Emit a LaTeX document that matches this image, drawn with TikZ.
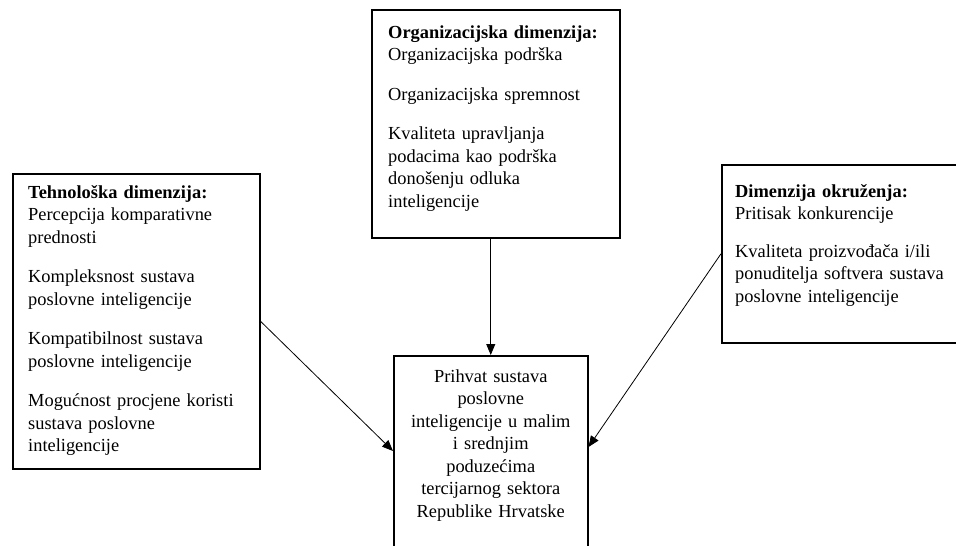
\documentclass[tikz,border=0pt]{standalone}
\usepackage{fontspec}
\setmainfont{Liberation Serif}
\usetikzlibrary{arrows.meta}
\tikzset{
  dim box/.style={draw, line width=1.5pt, anchor=north west, inner sep=0pt},
  dim text/.style={anchor=base west, align=left, text width=#1, inner sep=0pt},
  result text/.style={anchor=base, align=center, text width=#1, inner sep=0pt},
  influence/.style={-{Triangle[length=11pt, width=9pt]}, line width=0.8pt},
}

\begin{document}
\begin{tikzpicture}[x=1pt, y=-1pt, every node/.style={font=\fontsize{18.4}{22.5}\selectfont}]
  \useasboundingbox (0,0) rectangle (956,546);
  \clip (0,0) rectangle (956,546);
  \node[dim box, minimum width=247pt, minimum height=295pt] (teh) at (12,173) {};
  \node[dim box, minimum width=248pt, minimum height=228pt] (org) at (371,9) {};
  \node[dim box, minimum width=245pt, minimum height=178pt] (okr) at (721,164) {};
  \node[dim box, minimum width=194pt, minimum height=215pt] (prih) at (393,355) {};
  \node[dim text=225pt] (tehtxt) at (28,198) {\textbf{Tehnološka dimenzija:}\\
    Percepcija komparativne\\ prednosti\\[17pt]
    Kompleksnost sustava\\ poslovne inteligencije\\[17pt]
    Kompatibilnost sustava\\ poslovne inteligencije\\[17pt]
    Mogućnost procjene koristi\\ sustava poslovne\\ inteligencije};
  \node[dim text=225pt] (orgtxt) at (388,38) {\textbf{Organizacijska dimenzija:}\\
    Organizacijska podrška\\[17pt]
    Organizacijska spremnost\\[17pt]
    Kvaliteta upravljanja\\ podacima kao podrška\\ donošenju odluka\\ inteligencije};
  \node[dim text=220pt] (okrtxt) at (735,197) {\textbf{Dimenzija okruženja:}\\
    Pritisak konkurencije\\[15pt]
    Kvaliteta proizvođača i/ili\\ ponuditelja softvera sustava\\ poslovne inteligencije};
  \node[result text=190pt] (prihtxt) at (prih.north |- 0,382) {Prihvat sustava\\ poslovne\\
    inteligencije u malim\\ i srednjim\\ poduzećima\\ tercijarnog sektora\\ Republike Hrvatske};
  \draw[influence] (teh.east) -- ([yshift=-96pt]prih.north west);
  \draw[influence] (org.south -| prih.north) -- (prih.north);
  \draw[influence] (okr.west) -- ([yshift=-92pt]prih.north east);
\end{tikzpicture}
\end{document}
